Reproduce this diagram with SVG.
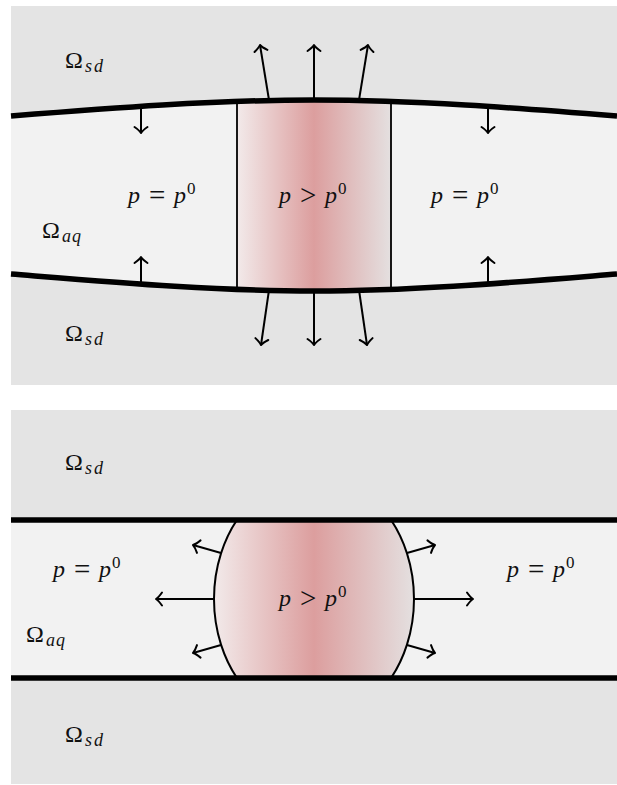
<svg xmlns="http://www.w3.org/2000/svg" width="617" height="785" viewBox="0 0 617 785">
<style>
.sd{fill:#e4e4e4}
.aq{fill:#f2f2f2}
.wall{fill:none;stroke:#000;stroke-width:5.5}
.thin{fill:none;stroke:#000;stroke-width:1.8}
.arr{fill:none;stroke:#000;stroke-width:2;marker-end:url(#ah)}
text{font-family:"Liberation Serif","DejaVu Serif",serif;font-size:24px;fill:#111}
.i{font-style:italic}
.op{font-size:29px}
.sup{font-size:17px}
.sub{font-size:18px;font-style:italic}
</style>
<defs>
<marker id="ah" markerUnits="userSpaceOnUse" viewBox="-8 -8 10 16" markerWidth="10" markerHeight="16" refX="0" refY="0" orient="auto" overflow="visible">
<path d="M-6,-6.5 Q-2.5,-1.5 0,0 Q-2.5,1.5 -6,6.5" fill="none" stroke="#000" stroke-width="2" stroke-linecap="round" stroke-linejoin="round"/>
</marker>
<linearGradient id="redTop" x1="237" y1="0" x2="391" y2="0" gradientUnits="userSpaceOnUse">
<stop offset="0" stop-color="#f2eaea"/>
<stop offset="0.5" stop-color="#dc9e9e"/>
<stop offset="1" stop-color="#e4e0e0"/>
</linearGradient>
<linearGradient id="redBot" x1="214" y1="0" x2="414" y2="0" gradientUnits="userSpaceOnUse">
<stop offset="0" stop-color="#f2eaea"/>
<stop offset="0.5" stop-color="#dc9e9e"/>
<stop offset="1" stop-color="#e4e0e0"/>
</linearGradient>
<clipPath id="bandTop">
<path d="M11,116 C111,108 214,100 314,100 C414,100 517,108 617,116 L617,274 C517,282 414,291 314,291 C214,291 111,282 11,274 Z"/>
</clipPath>
<clipPath id="bandBot">
<rect x="11" y="520" width="606" height="158"/>
</clipPath>
</defs>

<!-- Top panel -->
<g id="top-solid">
<rect class="sd" x="11" y="6" width="606" height="379"/>
</g>
<g id="top-aquifer">
<path class="aq" d="M11,116 C111,108 214,100 314,100 C414,100 517,108 617,116 L617,274 C517,282 414,291 314,291 C214,291 111,282 11,274 Z"/>
</g>
<g id="top-pressure-zone">
<rect x="237" y="90" width="154" height="210" fill="url(#redTop)" clip-path="url(#bandTop)"/>
<line class="thin" x1="237" y1="100" x2="237" y2="291"/>
<line class="thin" x1="391" y1="100" x2="391" y2="291"/>
</g>
<g id="top-walls">
<path class="wall" d="M11,116 C111,108 214,100 314,100 C414,100 517,108 617,116"/>
<path class="wall" d="M11,274 C111,282 214,291 314,291 C414,291 517,282 617,274"/>
</g>

<!-- Bottom panel -->
<g id="bottom-solid">
<rect class="sd" x="11" y="410" width="606" height="374"/>
</g>
<g id="bottom-aquifer">
<rect class="aq" x="11" y="520" width="606" height="158"/>
</g>
<g id="bottom-bubble">
<ellipse cx="314" cy="599" rx="100" ry="124" fill="url(#redBot)" stroke="#000" stroke-width="2" clip-path="url(#bandBot)"/>
</g>
<g id="bottom-walls">
<line class="wall" x1="11" y1="520" x2="617" y2="520"/>
<line class="wall" x1="11" y1="678" x2="617" y2="678"/>
</g>

<!-- Connectors -->
<g id="connectors">
<line class="arr" x1="269" y1="100" x2="260" y2="45"/>
<line class="arr" x1="314" y1="100" x2="314" y2="45"/>
<line class="arr" x1="359" y1="100" x2="368" y2="45"/>
<line class="arr" x1="269" y1="290" x2="261" y2="345"/>
<line class="arr" x1="314" y1="291" x2="314" y2="345"/>
<line class="arr" x1="359" y1="290" x2="367" y2="345"/>
<line class="arr" x1="141" y1="107" x2="141" y2="133"/>
<line class="arr" x1="488" y1="107" x2="488" y2="133"/>
<line class="arr" x1="141" y1="283" x2="141" y2="257"/>
<line class="arr" x1="488" y1="283" x2="488" y2="257"/>
<line class="arr" x1="214" y1="599" x2="156" y2="599"/>
<line class="arr" x1="414" y1="599" x2="473" y2="599"/>
<line class="arr" x1="221" y1="553" x2="193" y2="545"/>
<line class="arr" x1="221" y1="645" x2="193" y2="653"/>
<line class="arr" x1="407" y1="553" x2="435" y2="545"/>
<line class="arr" x1="407" y1="645" x2="435" y2="653"/>
</g>

<!-- Labels -->
<g id="label-top-sd1"><text x="65" y="68">Ω<tspan class="sub" x="85" y="72">s</tspan><tspan class="sub" x="94" y="72">d</tspan></text></g>
<g id="label-top-aq"><text x="42" y="238">Ω<tspan class="sub" x="62" y="242">a</tspan><tspan class="sub" x="72" y="242">q</tspan></text></g>
<g id="label-top-sd2"><text x="65" y="341">Ω<tspan class="sub" x="85" y="345">s</tspan><tspan class="sub" x="94" y="345">d</tspan></text></g>
<g id="label-top-left"><text x="128" y="203"><tspan class="i">p</tspan><tspan class="op" x="149" y="205">=</tspan><tspan class="i" x="174" y="203">p</tspan><tspan class="sup" x="187" y="194">0</tspan></text></g>
<g id="label-top-center"><text x="279" y="203"><tspan class="i">p</tspan><tspan class="op" x="300" y="205">&gt;</tspan><tspan class="i" x="325" y="203">p</tspan><tspan class="sup" x="338" y="194">0</tspan></text></g>
<g id="label-top-right"><text x="431" y="203"><tspan class="i">p</tspan><tspan class="op" x="452" y="205">=</tspan><tspan class="i" x="477" y="203">p</tspan><tspan class="sup" x="490" y="194">0</tspan></text></g>

<g id="label-bot-sd1"><text x="65" y="470">Ω<tspan class="sub" x="85" y="474">s</tspan><tspan class="sub" x="94" y="474">d</tspan></text></g>
<g id="label-bot-aq"><text x="26" y="642">Ω<tspan class="sub" x="46" y="646">a</tspan><tspan class="sub" x="56" y="646">q</tspan></text></g>
<g id="label-bot-sd2"><text x="65" y="742">Ω<tspan class="sub" x="85" y="746">s</tspan><tspan class="sub" x="94" y="746">d</tspan></text></g>
<g id="label-bot-left"><text x="53" y="577"><tspan class="i">p</tspan><tspan class="op" x="74" y="579">=</tspan><tspan class="i" x="99" y="577">p</tspan><tspan class="sup" x="112" y="568">0</tspan></text></g>
<g id="label-bot-center"><text x="279" y="606"><tspan class="i">p</tspan><tspan class="op" x="300" y="608">&gt;</tspan><tspan class="i" x="325" y="606">p</tspan><tspan class="sup" x="338" y="597">0</tspan></text></g>
<g id="label-bot-right"><text x="507" y="577"><tspan class="i">p</tspan><tspan class="op" x="528" y="579">=</tspan><tspan class="i" x="553" y="577">p</tspan><tspan class="sup" x="566" y="568">0</tspan></text></g>
</svg>
